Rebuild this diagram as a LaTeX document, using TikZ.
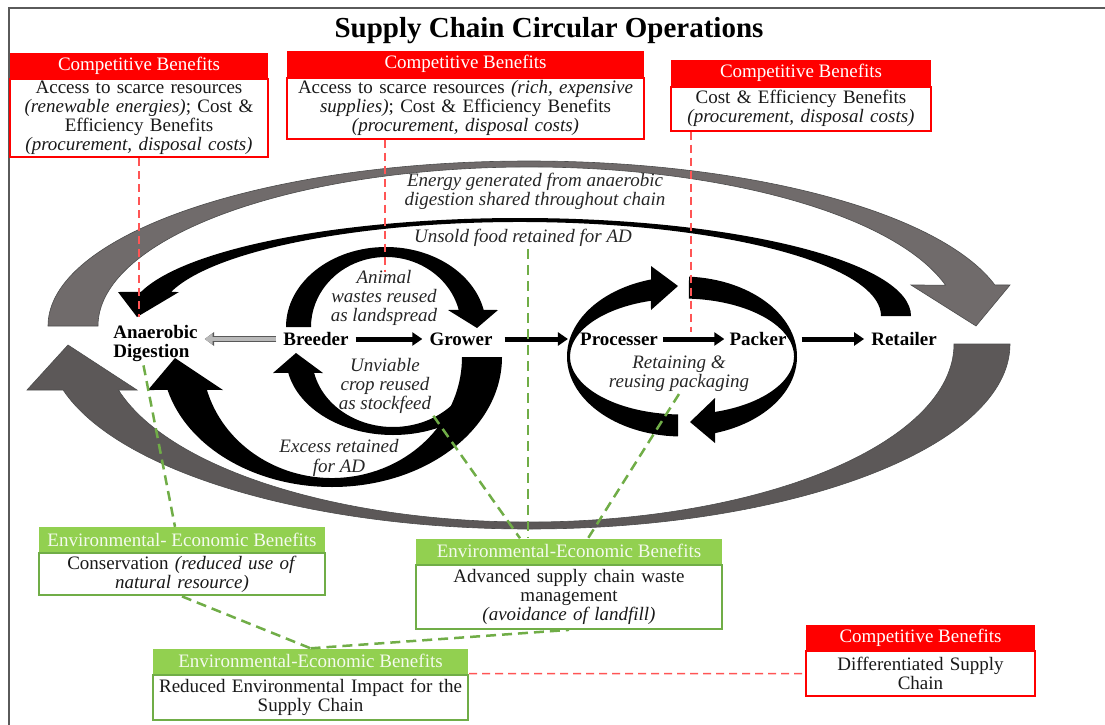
\documentclass[tikz,border=0pt]{standalone}
\usepackage{fontspec}
\setmainfont{Liberation Serif}
\usetikzlibrary{positioning,arrows.meta}

\definecolor{cbred}{RGB}{255,0,0}
\definecolor{dashred}{RGB}{255,85,85}
\definecolor{eegreen}{RGB}{146,208,80}
\definecolor{eegreenline}{RGB}{112,173,71}
\definecolor{arcgray}{RGB}{112,107,107}
\definecolor{arcgraydark}{RGB}{92,88,88}
\definecolor{framegray}{RGB}{90,90,90}

\begin{document}
\begin{tikzpicture}[x=1pt, y=-1pt,
        redhead/.style={
        fill=cbred, text=white, inner sep=0pt,
        minimum height=25pt, font=\fontsize{19}{20}\selectfont},
        redbody/.style={
        draw=cbred, line width=1.8pt, fill=white, align=center,
        inner sep=2pt, text=black!90, font=\fontsize{19}{19}\selectfont},
        greenhead/.style={redhead, fill=eegreen, text=white!90!eegreen},
        greenbody/.style={redbody, draw=eegreenline, line width=2.2pt},
        stagelabel/.style={inner xsep=7pt, inner ysep=3pt,
        font=\fontsize{19}{19}\selectfont\bfseries},
        notetext/.style={align=center, inner sep=2pt, text=black!85,
        font=\fontsize{19}{19}\selectfont\itshape},
        chainarrow/.style={line width=5pt, -{Triangle[length=10pt,width=13pt]}},
        hollowarrow/.style={line width=4pt, draw=gray!55,
        -{Triangle[length=8pt,width=11pt]},
        preaction={draw=black!65, line width=5.6pt, -{Triangle[length=9.5pt,width=13.5pt]}}},
        grayarc/.style={fill=arcgray, draw=black!70, line width=0.6pt},
        reddash/.style={dashred, line width=1.5pt, dash pattern=on 8pt off 5pt},
        greendash/.style={eegreenline, line width=2.5pt, dash pattern=on 10pt off 6pt},
        ]

        \useasboundingbox (0,0) rectangle (1105,725);
        \draw[framegray, line width=1.5pt] (9,725) -- (9,8) -- (1105,8);

        % energy from the digester, shared along the chain
        \begin{scope}[shift={(529,326)}]
        \fill[grayarc] (180:481 and 165) arc[start angle=180, end angle=345.6, x radius=481, y radius=165]
            -- (481,-41) -- (447,0) -- (382,-41)
            -- (345.1:431 and 159) arc[start angle=345.1, end angle=180, x radius=431, y radius=159] -- cycle;
        \end{scope}
        \begin{scope}[shift={(529,344)}]
        \fill[grayarc, fill=arcgraydark] (0:481 and 185) arc[start angle=0, end angle=165.6, x radius=481, y radius=185]
            -- (-502,46) -- (-461,1) -- (-392,46)
            -- (165:425 and 178) arc[start angle=165, end angle=0, x radius=425, y radius=178] -- cycle;
        \end{scope}

        % unsold food back to AD
        \begin{scope}[shift={(520,316)}]
        \fill (0:391 and 98) arc[start angle=360, end angle=194.2, x radius=391, y radius=98]
            -- (-402,-24) -- (-383,1) -- (-341,-24)
            -- (194.8:361 and 94) arc[start angle=194.8, end angle=360, x radius=361, y radius=94] -- cycle;
        \end{scope}

        % breeder / grower loop
        \begin{scope}[shift={(386,327)}]
        \fill (180:100 and 80) arc[start angle=180, end angle=347.7, x radius=100, y radius=80]
            -- (112,-17) -- (91,1) -- (62,-17)
            -- (345.9:75 and 70) arc[start angle=345.9, end angle=180, x radius=75, y radius=70] -- cycle;
        \end{scope}
        \begin{scope}[shift={(393,357)}]
        \fill (0:107 and 78) arc[start angle=0, end angle=168.2, x radius=107, y radius=78]
            -- (-120,16) -- (-97,-4) -- (-70,16)
            -- (166.8:81 and 70) arc[start angle=166.8, end angle=0, x radius=81, y radius=70] -- cycle;
        \end{scope}
        \begin{scope}[shift={(332,357)}]
        \fill (0:170 and 130) arc[start angle=0, end angle=165.3, x radius=170, y radius=130]
            -- (-184,33) -- (-157,1) -- (-109,33)
            -- (164.2:130 and 121) arc[start angle=164.2, end angle=0, x radius=130, y radius=121] -- cycle;
        \end{scope}

        % processer / packer ring
        \begin{scope}[shift={(682,356.5)}]
        \fill (92:115 and 80) arc[start angle=92, end angle=254.4, x radius=115, y radius=80]
            -- (-31,-90.5) -- (-4,-70.5) -- (-31,-46.5)
            -- (253.9:112 and 58) arc[start angle=253.9, end angle=92, x radius=112, y radius=58] -- cycle;
        \fill (273.5:115 and 80) arc[start angle=273.5, end angle=433.3, x radius=115, y radius=80]
            -- (33,86.5) -- (8,65.5) -- (33,41.5)
            -- (432.9:112 and 58) arc[start angle=432.9, end angle=273.5, x radius=112, y radius=58] -- cycle;
        \end{scope}

        \node (heading) [font=\fontsize{29}{30}\selectfont\bfseries] at (549,31) {Supply Chain Circular Operations};

        % stages
        \node (ad) [stagelabel, align=left] at (155.5,344) {Anaerobic\\Digestion};
        \node (breeder) [stagelabel] at (316,339) {Breeder};
        \node (grower) [stagelabel] at (461,339) {Grower};
        \node (processer) [stagelabel] at (619,339) {Processer};
        \node (packer) [stagelabel] at (758,339) {Packer};
        \node (retailer) [stagelabel] at (904,339) {Retailer};

        \node (energy) [notetext] at (535,191) {Energy generated from anaerobic\\digestion shared throughout chain};
        \node (unsold) [notetext] at (523,238) {Unsold food retained for AD};
        \node (animal) [notetext] at (384,298) {Animal\\wastes reused\\as landspread};
        \node (unviable) [notetext] at (385,386) {Unviable\\crop reused\\as stockfeed};
        \node (excess) [notetext, font=\fontsize{19}{20}\selectfont\itshape] at (339,458) {Excess retained\\for AD};
        \node (retaining) [notetext] at (679,374) {Retaining \&\\reusing packaging};

        % benefit boxes
        \node (tlh) [redhead, minimum width=258pt] at (139,65.5) {Competitive Benefits};
        \node (tl) [redbody, text width=254pt, minimum height=78pt, below=0pt of tlh]
            {Access to scarce resources\\ \textit{(renewable energies)}; Cost \&\\ Efficiency Benefits\\ \textit{(procurement, disposal costs)}};
        \node (tmh) [redhead, minimum width=357pt] at (465.5,64) {Competitive Benefits};
        \node (tm) [redbody, text width=353pt, minimum height=61pt, below=0pt of tmh]
            {Access to scarce resources \textit{(rich, expensive}\\ \textit{supplies)}; Cost \& Efficiency Benefits\\ \textit{(procurement, disposal costs)}};
        \node (trh) [redhead, minimum width=260pt] at (801,73) {Competitive Benefits};
        \node (tr) [redbody, text width=256pt, minimum height=44pt, below=0pt of trh]
            {Cost \& Efficiency Benefits\\ \textit{(procurement, disposal costs)}};

        \node (blh) [greenhead, minimum width=286pt] at (182,539.5) {Environmental- Economic Benefits};
        \node (bl) [greenbody, text width=282pt, minimum height=42pt, below=0pt of blh]
            {Conservation \textit{(reduced use of}\\ \textit{natural resource)}};
        \node (bmh) [greenhead, minimum width=306pt] at (569,551) {Environmental-Economic Benefits};
        \node (bm) [greenbody, text width=302pt, minimum height=64pt, below=0pt of bmh]
            {Advanced supply chain waste\\ management\\ \textit{(avoidance of landfill)}};
        \node (bbh) [greenhead, minimum width=315pt] at (310.5,661) {Environmental-Economic Benefits};
        \node (bb) [greenbody, text width=311pt, minimum height=45pt, below=0pt of bbh]
            {Reduced Environmental Impact for the\\ Supply Chain};
        \node (brh) [redhead, minimum width=229pt] at (920.5,637.5) {Competitive Benefits};
        \node (br) [redbody, text width=225pt, minimum height=45pt, below=0pt of brh]
            {Differentiated Supply\\ Chain};

        % linear chain
        \draw[hollowarrow] (breeder.west) -- (breeder.west -| ad.east);
        \draw[chainarrow] (breeder) -- (grower);
        \draw[chainarrow, shorten <=5pt, shorten >=5pt] (grower) -- (processer);
        \draw[chainarrow, shorten <=-2pt, shorten >=-2pt] (processer) -- (packer);
        \draw[chainarrow, shorten <=8pt] (packer) -- (retailer);

        \coordinate (adtip) at (139,317);
        \coordinate (wastetop) at (385,272);
        \coordinate (packtop) at (691,332);

        \draw[reddash] (tl.south) -- (adtip);
        \draw[reddash] (tm.south -| wastetop) -- (wastetop);
        \draw[reddash] (tr.south -| packtop) -- (packtop);
        \draw[reddash] (bb.north east) -- (br.west);

        \draw[greendash] ([xshift=-12pt]ad.south) -- ([xshift=-7pt]blh.north);
        \draw[greendash] (bl.south) -- (bbh.north);
        \draw[greendash] (bbh.north) -- (bm.south);
        \draw[greendash] ([xshift=5pt]unsold.south) -- ([xshift=5pt]unsold.south |- bmh.north);
        \draw[greendash] (unviable.south east) -- ([xshift=-49pt]bmh.north);
        \draw[greendash] (retaining.south) -- ([xshift=19pt]bmh.north);
    \end{tikzpicture}
\end{document}
